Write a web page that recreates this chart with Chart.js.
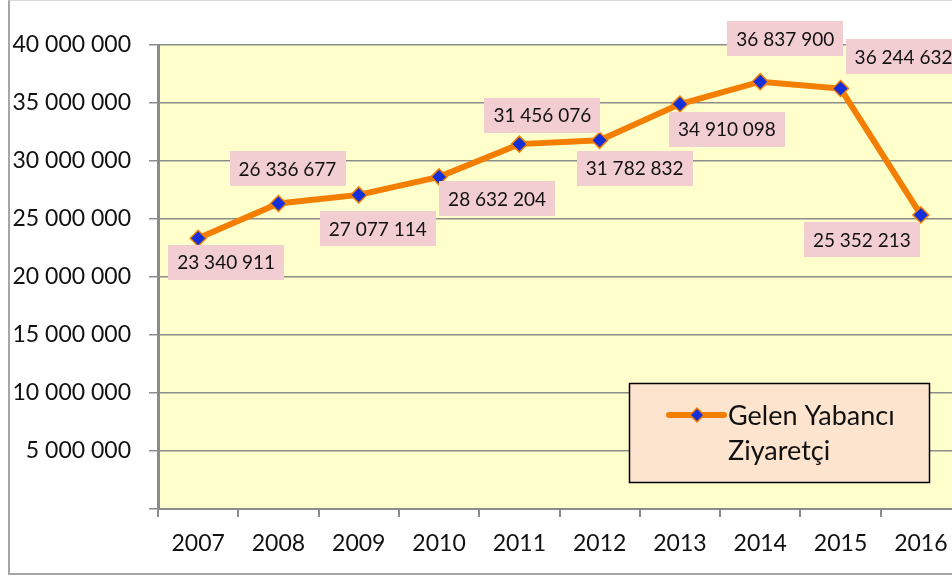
<!DOCTYPE html>
<html>
<head>
<meta charset="utf-8">
<script src="https://cdn.jsdelivr.net/npm/chart.js@4.4.1/dist/chart.umd.min.js"></script>
<style>
  html,body{margin:0;padding:0;background:#fff;overflow:hidden;}
  #wrap{position:relative;width:952px;height:578px;overflow:hidden;}
  #frame{position:absolute;left:8px;top:0;width:1100px;height:572px;
    border-left:2px solid #a6a6a6;border-bottom:2px solid #a6a6a6;border-top:1px solid #d9d9d9;}
  #c{position:absolute;left:0;top:0;}
</style>
</head>
<body>
<div id="wrap">
  <div id="frame"></div>
  <canvas id="c" width="1000" height="578"></canvas>
</div>
<script>
/* Gelen Yabancı Ziyaretçi 2007-2016 */
const years=['2007','2008','2009','2010','2011','2012','2013','2014','2015','2016'];
const visitors=[23340911,26336677,27077114,28632204,31456076,31782832,34910098,36837900,36244632,25352213];
const yMin=0, yMax=40000000, yStep=5000000;
const seriesName=['Gelen Yabancı','Ziyaretçi'];

const FONT='Lato, "Open Sans", sans-serif';
const ORANGE='#f47e00', BLUE='#1530d8';

function fmtNum(v){ return String(Math.round(v)).replace(/\B(?=(\d{3})+(?!\d))/g,' '); }

function diamond(ctx,x,y,r){
  ctx.beginPath();
  ctx.moveTo(x,y-r); ctx.lineTo(x+r,y); ctx.lineTo(x,y+r); ctx.lineTo(x-r,y);
  ctx.closePath();
}

// sarı çizim alanı
const plotBg={
  id:'plotBg',
  beforeDraw(chart){
    const {ctx,chartArea:a}=chart;
    ctx.save(); ctx.fillStyle='#ffffcc';
    ctx.fillRect(a.left,a.top,a.right-a.left,a.bottom-a.top);
    ctx.restore();
  }
};

// pembe kutulu veri etiketleri (nokta başına kaydırma)
const dataLabels={
  id:'dataLabels',
  afterDatasetsDraw(chart,args,opts){
    const {ctx}=chart;
    const meta=chart.getDatasetMeta(0);
    ctx.save();
    ctx.font='19px '+FONT; ctx.textAlign='center'; ctx.textBaseline='middle';
    meta.data.forEach((pt,i)=>{
      const [dx,dy]=opts.offsets[i];
      const txt=fmtNum(chart.data.datasets[0].data[i]);
      const w=ctx.measureText(txt).width+18, h=35;
      const cx=pt.x+dx, cy=pt.y+dy;
      ctx.fillStyle='#f2cdd2';
      ctx.fillRect(Math.round(cx-w/2),Math.round(cy-h/2),Math.round(w),h);
      ctx.fillStyle='#111';
      ctx.fillText(txt,cx,cy+1);
    });
    ctx.restore();
  }
};

// lejant kutusu
const legendBox={
  id:'legendBox',
  afterDraw(chart){
    const {ctx,chartArea:a}=chart;
    const R=a.right-31, B=a.bottom-26, L=R-301, T=B-100;
    ctx.save();
    ctx.fillStyle='#fde4cf'; ctx.fillRect(L,T,R-L,B-T);
    ctx.strokeStyle='#000'; ctx.lineWidth=1.5; ctx.strokeRect(L+0.5,T+0.5,R-L-1,B-T-1);
    const ly=T+32;
    ctx.strokeStyle=ORANGE; ctx.lineWidth=6; ctx.lineCap='round';
    ctx.beginPath(); ctx.moveTo(L+40,ly); ctx.lineTo(L+95,ly); ctx.stroke();
    diamond(ctx,L+68,ly,7); ctx.fillStyle=BLUE; ctx.fill();
    ctx.lineWidth=1.5; ctx.strokeStyle=ORANGE; ctx.stroke();
    ctx.fillStyle='#111'; ctx.font='27px '+FONT;
    ctx.textAlign='left'; ctx.textBaseline='alphabetic';
    ctx.fillText(seriesName[0],L+99,T+42);
    ctx.fillText(seriesName[1],L+99,T+77);
    ctx.restore();
  }
};

new Chart(document.getElementById('c'),{
  type:'line',
  data:{labels:years,datasets:[{
    label:seriesName.join(' '),
    data:visitors,
    borderColor:ORANGE, borderWidth:6, tension:0,
    pointStyle:'rectRot', pointRadius:8, pointHoverRadius:8,
    pointBackgroundColor:BLUE, pointBorderColor:ORANGE, pointBorderWidth:1.5
  }]},
  options:{
    responsive:false, animation:false, devicePixelRatio:1,
    layout:{padding:{left:0,top:45,right:39,bottom:0}},
    plugins:{
      legend:{display:false}, tooltip:{enabled:false},
      dataLabels:{offsets:[[28,24],[9,-35],[19,34],[58,22],[23,-29],[35,28],[47,25],[25,-43],[63,-32],[-59,25]]}
    },
    scales:{
      x:{
        offset:true,
        grid:{offset:true,drawOnChartArea:false,drawTicks:true,tickLength:8,color:'#8c8c8c',lineWidth:2},
        border:{color:'#8c8c8c',width:2},
        ticks:{color:'#111',font:{family:FONT,size:23},padding:13,maxRotation:0,autoSkip:false},
        afterFit(s){ s.height=69; }
      },
      y:{
        min:yMin,max:yMax,
        grid:{color:'#8c8c8c',lineWidth:1.5,tickLength:9},
        border:{color:'#8c8c8c',width:3},
        ticks:{stepSize:yStep,color:'#111',font:{family:FONT,size:23},padding:18,
          callback:v=>v===0?'':fmtNum(v)},
        afterFit(s){ s.width=158; }
      }
    }
  },
  plugins:[plotBg,dataLabels,legendBox]
});
</script>
</body>
</html>
